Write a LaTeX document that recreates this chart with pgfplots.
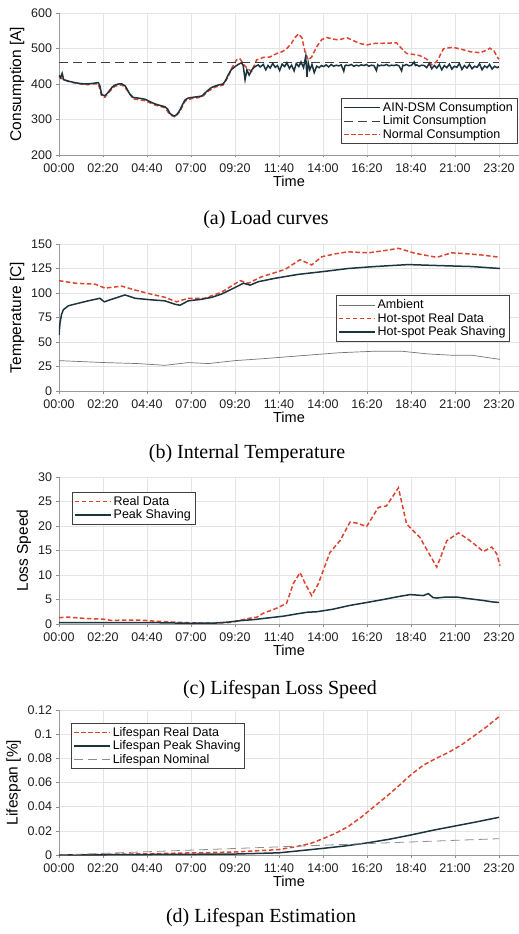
\documentclass[border=0pt]{standalone}
\usepackage{fontspec}
\setmainfont{Liberation Sans}
\newfontfamily\capfont{Liberation Serif}
\usepackage{pgfplots}
\pgfplotsset{compat=1.18}

\definecolor{dk}{RGB}{28,52,62}
\definecolor{rd}{RGB}{220,68,48}
\definecolor{gridc}{RGB}{228,228,228}

\pgfplotsset{
  panel/.style={
    scale only axis, width=460pt, anchor=north west,
    xmin=0, xmax=1463.6,
    xtick={0,140,...,1400},
    xticklabels={00:00,02:20,04:40,07:00,09:20,11:40,14:00,16:20,18:40,21:00,23:20},
    axis lines*=left,
    axis line style={black!40},
    tick style={black!45},
    tick align=outside, major tick length=2.5pt,
    grid=major, grid style={gridc, line width=0.6pt},
    tick label style={font=\fontsize{12.5}{14}\selectfont, text=black!88},
    xticklabel style={yshift=-2.5pt},
    yticklabel style={xshift=-1pt},
    /pgf/number format/assume math mode=true,
    xlabel={Time},
    xlabel style={font=\fontsize{14.5}{16}\selectfont, yshift=3pt},
    ylabel style={font=\fontsize{15.5}{17}\selectfont},
    legend cell align=left,
    legend style={font=\fontsize{12.5}{15}\selectfont, draw=black!75, line width=0.6pt,
      inner sep=2pt, row sep=-1pt},
    legend image code/.code={\draw[##1] (0pt,0pt) -- (36pt,0pt);},
  },
  dkl/.style={dk, line width=1.5pt},
  rdl/.style={rd, line width=1.5pt, dash pattern=on 4.5pt off 2.5pt},
}

\begin{document}
\begin{tikzpicture}
\useasboundingbox (0,0) rectangle (519pt,-934pt);

% (a) load curves
\begin{axis}[panel, at={(59pt,-13pt)}, height=142pt,
  ymin=200, ymax=600, ytick={200,300,...,600},
  ylabel={Consumption [A]},
  reverse legend,
  legend style={at={(0.996,0.077)}, anchor=south east}]
\addplot[rdl] coordinates {(0,420) (10,415) (30,407) (50,403) (70,400) (90,398) (110,400) (125,401)
 (136,365) (146,363) (162,380) (178,394) (200,398) (215,385) (236,358) (274,353) (305,341) (337,333)
 (353,314) (369,307) (385,323) (401,352) (422,359) (454,363) (475,380) (496,391) (522,397) (538,420)
 (550,445) (565,468) (575,472) (590,452) (605,440) (613,435) (629,468) (650,475) (671,476) (693,486)
 (710,491) (725,500) (740,515) (750,530) (762,541) (773,530) (783,490) (793,468) (804,476) (820,505)
 (836,525) (852,531) (870,527) (889,524) (905,528) (917,530) (937,522) (958,514) (979,510) (1000,514)
 (1040,515) (1074,516) (1090,500) (1106,486) (1130,483) (1148,480) (1170,470) (1186,454) (1200,462)
 (1207,471) (1223,499) (1240,502) (1255,503) (1280,498) (1308,491) (1340,488) (1360,495) (1371,501)
 (1385,492) (1393,477) (1400,470)};
\addlegendentry{Normal Consumption}
\addplot[black!75, line width=0.7pt, dash pattern=on 9pt off 5pt] coordinates {(0,460) (1400,460)};
\addlegendentry{Limit Consumption}
\addplot[dkl] coordinates {(0,425) (5,418) (10,430) (15,412) (30,408) (50,404) (70,401) (90,400)
 (110,402) (125,404) (130,395) (136,370) (146,367) (155,375) (162,383) (170,392) (178,397) (190,400)
 (200,400) (210,395) (215,388) (225,372) (236,362) (255,360) (274,357) (290,350) (305,344) (320,340)
 (337,336) (345,330) (353,317) (361,312) (369,310) (377,316) (385,327) (393,342) (401,355) (410,360)
 (422,362) (438,364) (454,366) (465,375) (475,383) (485,390) (496,394) (510,398) (522,400) (530,410)
 (538,425) (548,440) (560,449) (570,455) (581,460) (586,452) (592,412) (598,440) (605,425) (613,439)
 (620,447) (634,454) (640,448) (650,455) (658,440) (665,452) (672,445) (680,458) (688,447) (695,452)
 (702,438) (710,456) (718,449) (725,460) (733,444) (740,453) (748,437) (755,458) (763,449) (770,462)
 (778,446) (785,478) (789,420) (793,460) (798,440) (805,455) (812,432) (820,450) (828,446) (835,452)
 (842,449) (850,454) (858,448) (866,455) (874,450) (882,453) (890,451) (898,454) (906,436) (910,452)
 (914,453) (922,452) (930,455) (938,450) (946,453) (954,451) (962,454) (970,452) (978,455) (986,450)
 (994,453) (1002,452) (1010,438) (1014,454) (1018,451) (1026,453) (1034,452) (1042,455) (1050,451)
 (1058,453) (1066,452) (1074,454) (1082,451) (1090,437) (1094,453) (1098,452) (1106,455) (1114,451)
 (1122,453) (1130,462) (1134,452) (1138,454) (1146,450) (1154,453) (1162,452) (1170,446) (1178,458)
 (1186,443) (1194,452) (1202,445) (1210,455) (1218,440) (1226,452) (1234,446) (1242,456) (1250,442)
 (1258,450) (1266,447) (1274,458) (1282,441) (1290,452) (1298,445) (1306,455) (1314,443) (1322,450)
 (1330,447) (1338,457) (1346,440) (1354,451) (1362,446) (1370,455) (1378,442) (1386,450) (1394,446)
 (1400,449)};
\addlegendentry{AIN-DSM Consumption}
\end{axis}
\node[font=\capfont\fontsize{20}{22}\selectfont] at (266pt,-220pt) {(a) Load curves};

% (b) internal temperature
\begin{axis}[panel, at={(59pt,-244pt)}, height=147pt,
  ymin=0, ymax=150, ytick={0,25,...,150},
  ylabel={Temperature [C]},
  legend style={at={(0.98,0.335)}, anchor=south east}]
\addplot[black!55, line width=0.7pt] coordinates {(0,31) (146,29) (250,28) (337,26.2) (411,29)
 (475,28) (560,31) (650,33) (730,35) (810,37) (889,39) (1005,40.6) (1090,40.6) (1175,37.8)
 (1250,36.5) (1313,36.5) (1403,32.3)};
\addlegendentry{Ambient}
\addplot[rdl] coordinates {(0,112.6) (51,110) (115,109) (146,105) (200,107) (242,103) (295,98.7)
 (337,95.6) (374,91) (411,94.6) (464,94.6) (518,101) (576,112.6) (602,110) (645,116.6) (719,124)
 (767,134) (804,128.6) (836,137) (880,140) (920,142) (984,141) (1040,143.5) (1080,145.6) (1133,140.5)
 (1202,136.4) (1249,141) (1300,140) (1345,138.8) (1403,136.4)};
\addlegendentry{Hot-spot Real Data}
\addplot[dkl] coordinates {(0,57) (3,69) (8,78) (14,83) (30,87) (61,89.5) (93,92) (130,94.6)
 (144,91) (162,93) (210,98) (242,94.6) (295,93) (337,92) (369,88.5) (385,87.5) (411,92) (454,93.6)
 (486,95.6) (518,99) (550,104) (587,110) (608,108) (634,111.5) (687,115) (761,119) (836,121.7)
 (920,125) (1005,127) (1111,129) (1207,128) (1313,127) (1403,125)};
\addlegendentry{Hot-spot Peak Shaving}
\end{axis}
\node[font=\capfont\fontsize{20}{22}\selectfont] at (247pt,-454pt) {(b) Internal Temperature};

% (c) lifespan loss speed
\begin{axis}[panel, at={(59pt,-477pt)}, height=147pt,
  ymin=0, ymax=30, ytick={0,5,...,30},
  ylabel={Loss Speed},
  legend style={at={(0.028,0.9)}, anchor=north west}]
\addplot[rdl] coordinates {(0,1.3) (30,1.4) (90,1.1) (140,1.0) (170,0.7) (200,0.8) (260,0.8)
 (300,0.6) (360,0.4) (400,0.3) (450,0.2) (500,0.2) (540,0.3) (560,0.5) (580,0.8) (608,1.2)
 (630,1.4) (650,2.2) (692,3.2) (724,4.2) (745,8.2) (767,10.5) (783,8.3) (804,5.8) (825,8.2)
 (862,14.6) (894,17) (926,20.8) (947,20.6) (979,19.9) (1016,23.8) (1042,24.1) (1080,27.8)
 (1106,20.4) (1148,17.7) (1202,11.6) (1234,17) (1271,18.6) (1308,17) (1350,14.8) (1377,15.7)
 (1393,14.3) (1403,11.9)};
\addlegendentry{Real Data}
\addplot[dkl] coordinates {(0,0.3) (140,0.3) (280,0.3) (420,0.15) (500,0.2) (540,0.4) (580,0.7)
 (620,0.9) (660,1.2) (714,1.6) (760,2.1) (790,2.4) (820,2.5) (870,3.0) (926,3.8) (980,4.4)
 (1032,5.0) (1080,5.6) (1117,6.0) (1140,5.9) (1159,5.8) (1175,6.2) (1190,5.4) (1202,5.3)
 (1230,5.5) (1265,5.5) (1300,5.2) (1350,4.8) (1380,4.5) (1400,4.4)};
\addlegendentry{Peak Shaving}
\end{axis}
\node[font=\capfont\fontsize{20}{22}\selectfont] at (280pt,-690pt) {(c) Lifespan Loss Speed};

% (d) lifespan estimation
\begin{axis}[panel, at={(59pt,-710pt)}, height=145pt,
  ymin=0, ymax=0.12, ytick={0,0.02,...,0.12},
  yticklabels={0,0.02,0.04,0.06,0.08,0.1,0.12},
  scaled y ticks=false,
  ylabel={Lifespan [\%]},
  legend style={at={(0.026,0.912)}, anchor=north west}]
\addplot[rdl] coordinates {(0,0) (280,0.001) (560,0.0025) (700,0.0045) (760,0.0072) (800,0.0095)
 (840,0.0135) (880,0.018) (920,0.0235) (960,0.031) (1000,0.0395) (1040,0.048) (1080,0.057)
 (1120,0.0665) (1160,0.0745) (1200,0.080) (1240,0.085) (1280,0.091) (1320,0.0985) (1360,0.106)
 (1400,0.1145)};
\addlegendentry{Lifespan Real Data}
\addplot[dkl] coordinates {(0,0) (280,0.0004) (560,0.0008) (700,0.0018) (840,0.0055) (910,0.0075)
 (980,0.0100) (1050,0.0130) (1120,0.0166) (1190,0.0205) (1260,0.0240) (1330,0.0275) (1400,0.0312)};
\addlegendentry{Lifespan Peak Shaving}
\addplot[black!45, line width=0.8pt, dash pattern=on 9pt off 5pt] coordinates {(0,0) (1400,0.0135)};
\addlegendentry{Lifespan Nominal}
\end{axis}
\node[font=\capfont\fontsize{20}{22}\selectfont] at (261pt,-918pt) {(d) Lifespan Estimation};
\end{tikzpicture}
\end{document}
